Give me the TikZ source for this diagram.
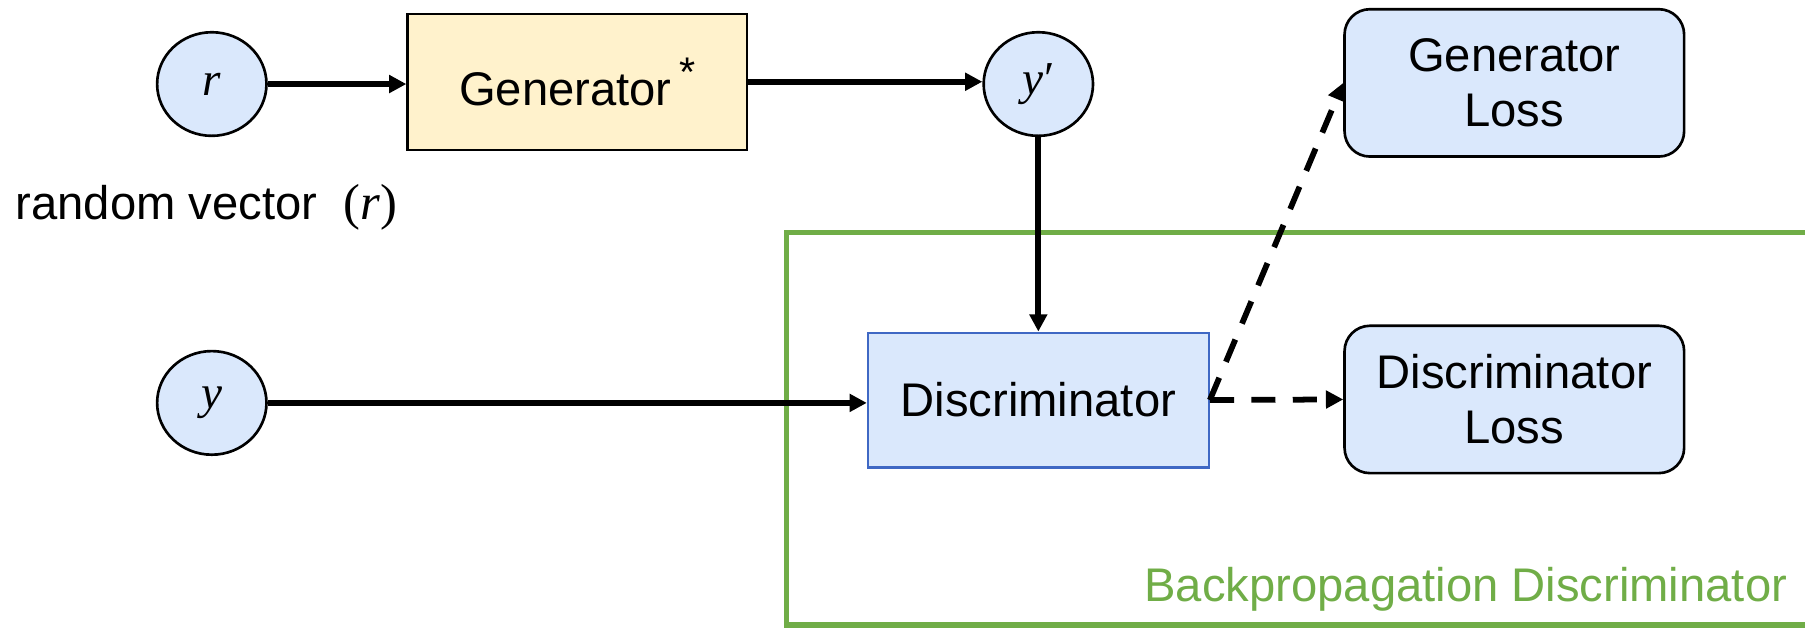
\documentclass[tikz,border=0pt]{standalone}
\usepackage{fontspec}
\setmainfont{Liberation Sans}
\newfontfamily\varfont{Liberation Serif}
\usetikzlibrary{shapes.geometric,arrows.meta}
\definecolor{fillblue}{HTML}{DAE8FC}
\definecolor{fillyellow}{HTML}{FFF2CC}
\definecolor{bpgreen}{HTML}{70AD47}
\definecolor{discborder}{HTML}{3F68C4}
\newcommand{\varit}[1]{{\varfont\itshape #1}}
\begin{document}
\begin{tikzpicture}[x=1pt,y=-1pt,
  txt/.style={font=\fontsize{41}{48}\selectfont},
  var/.style={ellipse, draw=black, line width=2.3pt, fill=fillblue, minimum width=95pt, minimum height=90pt, inner sep=0pt, txt},
  genbox/.style={rectangle, draw=black, line width=2pt, fill=fillyellow, minimum width=295pt, minimum height=118pt, txt},
  discbox/.style={rectangle, draw=discborder, line width=2pt, fill=fillblue, minimum width=296pt, minimum height=117pt, txt},
  lossbox/.style={rectangle, rounded corners=22pt, draw=black, line width=2.3pt, fill=fillblue, minimum width=295pt, minimum height=128pt, align=center, txt},
  conn/.style={line width=5pt, -{Triangle[length=15pt,width=15pt]}},
  dconn/.style={conn, dash pattern=on 21pt off 15pt},
]
\useasboundingbox (0,0) rectangle (1568,546);
\begin{scope}
  \clip (0,0) rectangle (1568,546);
  \draw[bpgreen, line width=4.5pt] (683,202) rectangle (1590,543);
\end{scope}
\node[txt, text=bpgreen, anchor=east] (bplabel) at (1556,512) {Backpropagation Discriminator};

\node[var] (r) at (184,73) {\varit{r}};
\node[genbox] (gen) at (501.5,71) {Generator\,\raisebox{0.75ex}{\fontsize{36}{36}\selectfont *}};
\node[var] (yp) at (902,73) {\varit{y}\kern1pt{\varfont ′}};
\node[txt, anchor=west] (rlabel) at (10,180) {random vector\ \ {\varfont\fontsize{44}{48}\selectfont(\itshape r\/\upshape)}};
\node[var] (y) at (184,350) {\varit{y}};
\node[discbox] (disc) at (902,347.5) {Discriminator};
\node[lossbox] (genloss) at (1315.5,72) {Generator\\Loss};
\node[lossbox] (discloss) at (1315.5,347) {Discriminator\\Loss};

\draw[conn, line width=5.5pt] (r.east) -- (r.east -| gen.west);
\draw[conn] (gen.east) -- (gen.east -| yp.west);
\draw[conn] (yp.south) -- (disc.north);
\draw[conn, line width=5.5pt] (y.east) -- (y.east -| disc.west);
\draw[dconn] (disc.east) -- (discloss.west);
\draw[dconn] (disc.east) -- (genloss.west);
\end{tikzpicture}
\end{document}
